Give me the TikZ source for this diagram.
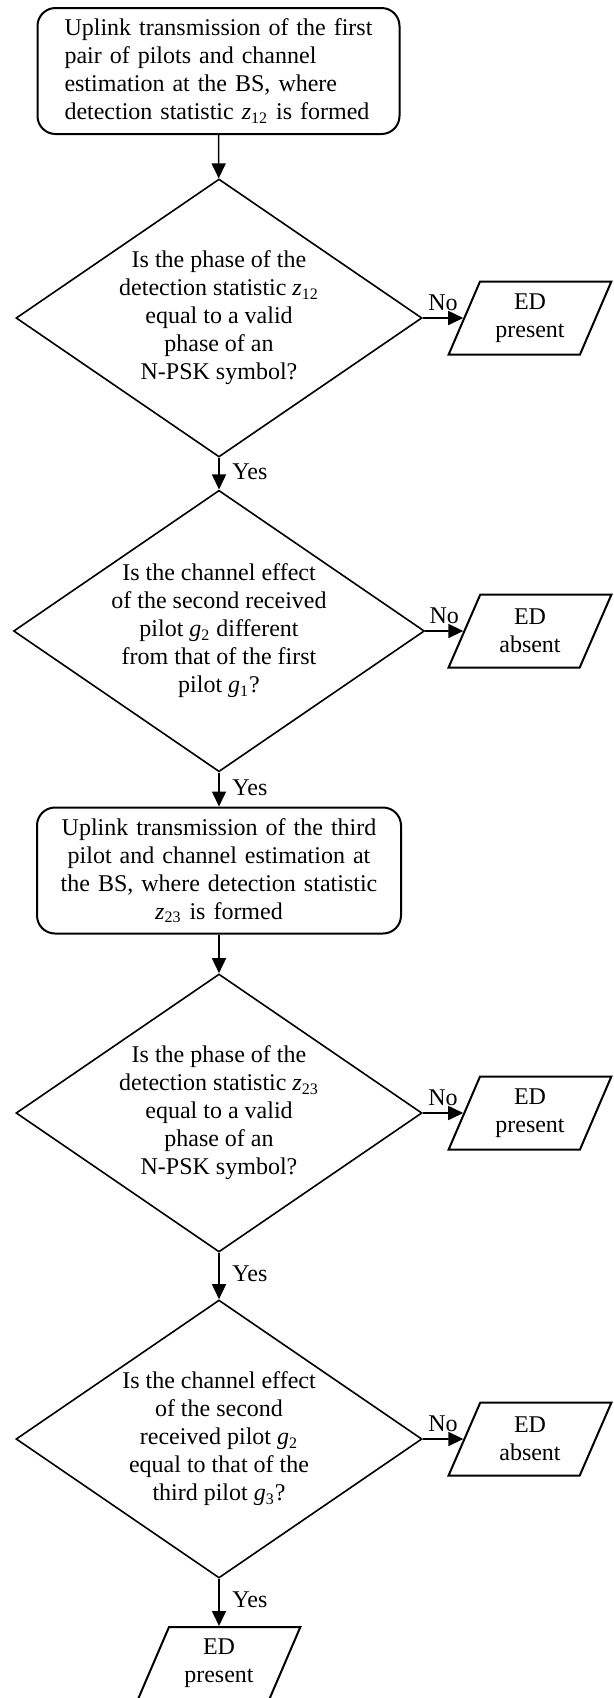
\documentclass[tikz,border=0pt]{standalone}
\usepackage{fontspec}
\setmainfont{Liberation Serif}
\usetikzlibrary{positioning,arrows.meta,shapes.geometric}
\tikzset{
  proc/.style={rectangle,draw,line width=1pt,rounded corners=9pt,
               minimum width=181pt,minimum height=63pt,inner sep=0pt,
               font=\fontsize{12}{14}\selectfont},
  dec/.style={diamond,draw,line width=0.8pt,aspect=1.46,
              minimum width=203pt,minimum height=139pt,inner sep=0pt,
              align=center,font=\fontsize{12}{14}\selectfont},
  io/.style={trapezium,trapezium left angle=66,trapezium right angle=114,
             trapezium stretches=true,draw,line width=1pt,
             minimum width=81.5pt,minimum height=36.5pt,inner sep=0pt,
             align=center,font=\fontsize{12}{14}\selectfont},
  edge/.style={-{Triangle[length=7.5pt,width=7pt]},line width=0.8pt},
  lbl/.style={font=\fontsize{12}{14}\selectfont},
}
\newcommand{\zsub}[1]{\textit{z}\textsubscript{#1}}
\newcommand{\gsub}[1]{\textit{g}\textsubscript{#1}}

\begin{document}
\begin{tikzpicture}[x=0.5pt,y=-0.5pt]
\useasboundingbox (0,0) rectangle (614,1698);
% first pair of pilots
\node[proc,text width=154pt,align=left] (up1) at (218.5,71)
  {Uplink transmission of the first\\ pair of pilots and channel\\
   estimation at the BS, where\\ detection statistic \zsub{12} is formed};
\node[dec] (ph1) at (219,318)
  {Is the phase of the\\ detection statistic \zsub{12}\\ equal to a valid\\
   phase of an\\ N-PSK symbol?};
\node[io] (pr1) at (530,318) {ED\\ present};
\node[dec] (ch1) at (219,631)
  {Is the channel effect\\ of the second received\\ pilot \gsub{2} different\\
   from that of the first\\ pilot \gsub{1}?};
\node[io] (ab1) at (530,631) {ED\\ absent};
% third pilot
\node[proc,text width=170pt,align=center,minimum width=182pt] (up2) at (219,870.5)
  {Uplink transmission of the third\\ pilot and channel estimation at\\
   the BS, where detection statistic\\ \zsub{23} is formed};
\node[dec] (ph2) at (219,1113)
  {Is the phase of the\\ detection statistic \zsub{23}\\ equal to a valid\\
   phase of an\\ N-PSK symbol?};
\node[io] (pr2) at (530,1113) {ED\\ present};
\node[dec] (ch2) at (219,1439)
  {Is the channel effect\\ of the second\\ received pilot \gsub{2}\\
   equal to that of the\\ third pilot \gsub{3}?};
\node[io] (ab2) at (530,1439) {ED\\ absent};
\node[io] (pr3) at (219,1663.5) {ED\\ present};

\draw[edge] (up1) -- (ph1);
\draw[edge] (ph1) -- node[lbl,above]{No} (pr1);
\draw[edge] (ph1) -- node[lbl,right,xshift=3pt,pos=0.45]{Yes} (ch1);
\draw[edge] (ch1) -- node[lbl,above]{No} (ab1);
\draw[edge] (ch1) -- node[lbl,right,xshift=3pt,pos=0.45]{Yes} (up2);
\draw[edge] (up2) -- (ph2);
\draw[edge] (ph2) -- node[lbl,above]{No} (pr2);
\draw[edge] (ph2) -- node[lbl,right,xshift=3pt,pos=0.45]{Yes} (ch2);
\draw[edge] (ch2) -- node[lbl,above]{No} (ab2);
\draw[edge] (ch2) -- node[lbl,right,xshift=3pt,pos=0.45]{Yes} (pr3);
\end{tikzpicture}
\end{document}
